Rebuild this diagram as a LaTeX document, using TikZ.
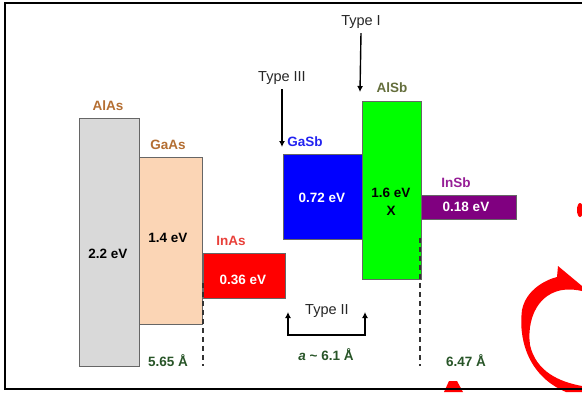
\documentclass[tikz,border=0pt]{standalone}
\usepackage{fontspec}
\setmainfont{Liberation Sans}
\usetikzlibrary{arrows.meta}
\definecolor{alascol}{RGB}{217,217,217}
\definecolor{gaascol}{RGB}{251,213,181}
\definecolor{browntxt}{RGB}{180,110,50}
\definecolor{redtxt}{RGB}{232,64,58}
\definecolor{bluetxt}{RGB}{35,35,240}
\definecolor{olivetxt}{RGB}{100,110,60}
\definecolor{purpletxt}{RGB}{150,30,150}
\definecolor{greentxt}{RGB}{40,85,40}
\definecolor{insbcol}{RGB}{128,0,128}

\begin{document}
\begin{tikzpicture}[x=1pt,y=-1pt,
    band/.style={draw=black!60, line width=0.8pt, inner sep=0pt},
    mat/.style={font=\fontsize{13.5}{16}\selectfont\bfseries},
    gap/.style={font=\fontsize{13.5}{16}\selectfont\bfseries},
    latt/.style={font=\fontsize{13.5}{16}\selectfont\bfseries, text=greentxt},
    typ/.style={font=\fontsize{14.5}{17}\selectfont, text=black!85},
    arr/.style={line width=1.4pt, -{Latex[length=6pt,width=6pt]}},
    cut/.style={line width=1.6pt, black!80, dash pattern=on 5pt off 4pt}]
    \useasboundingbox (0,0) rectangle (582,392);

    % red logo remains
    \fill[red] (558,266) -- (582,286) -- (582,291)
        .. controls (542,282) and (526,315) .. (530,345)
        .. controls (536,372) and (560,382) .. (582,386)
        -- (582,392) -- (566,392)
        .. controls (530,377) and (518,342) .. (522,310)
        .. controls (526,290) and (545,280) .. (557,277) -- cycle;
    \fill[red] (580,210) ellipse (3 and 7);
    \fill[red] (444,392) -- (449,381) -- (457,381) -- (463,392) -- cycle;

    % bands
    \node[band, fill=alascol, minimum width=60pt, minimum height=248pt] (alas) at (109,242) {};
    \node[band, fill=gaascol, minimum width=63pt, minimum height=167pt] (gaas) at (170.5,240.5) {};
    \node[band, fill=red, minimum width=82pt, minimum height=45pt] (inas) at (244,275.5) {};
    \node[band, fill=blue, minimum width=79pt, minimum height=85pt] (gasb) at (322.5,196.5) {};
    \node[band, fill=green, minimum width=59pt, minimum height=178pt] (alsb) at (391.5,190) {};
    \node[band, fill=insbcol, minimum width=95pt, minimum height=24pt] (insb) at (468.5,207) {};

    % material names
    \node[mat, text=browntxt] (alasl) at (108,106) {AlAs};
    \node[mat, text=browntxt] (gaasl) at (168,145) {GaAs};
    \node[mat, text=redtxt] (inasl) at (231,241) {InAs};
    \node[mat, text=bluetxt] (gasbl) at (305,142) {GaSb};
    \node[mat, text=olivetxt] (alsbl) at (392,88) {AlSb};
    \node[mat, text=purpletxt] (insbl) at (456,183) {InSb};

    % gaps
    \node[gap] (alasg) at (108,254) {2.2 eV};
    \node[gap] (gaasg) at (168,238) {1.4 eV};
    \node[gap, text=white] (inasg) at (243,280) {0.36 eV};
    \node[gap, text=white] (gasbg) at (322,198) {0.72 eV};
    \node[gap] (alsbg) at (391,193) {1.6 eV};
    \node[gap] (alsbx) at (391,211) {X};
    \node[gap, text=white] (insbg) at (466,207) {0.18 eV};

    % lattice constants
    \coordinate (cuta) at (203,283);
    \coordinate (cutb) at (203,366);
    \coordinate (cutc) at (420,238);
    \coordinate (cutd) at (420,366);
    \draw[cut] (cuta) -- (cutb);
    \draw[cut] (cutc) -- (cutd);
    \node[latt] (lc1) at (168,361) {5.65 Å};
    \node[latt] (lc2) at (326,355) {\textit{a} \textasciitilde\ 6.1 Å};
    \node[latt] (lc3) at (466,361) {6.47 Å};

    % alignment types
    \node[typ] (t1) at (361,22) {Type I};
    \node[typ] (t3) at (282,78) {Type III};
    \node[typ] (t2) at (327,311) {Type II};
    \draw[arr] (t1.south) ++(0,1) coordinate (t1s) (t1s) -- (360,92);
    \draw[arr] (t3.south) ++(0,1) coordinate (t3s) (t3s) -- (282,147);
    \coordinate (bl) at (288,312);
    \coordinate (br) at (365,312);
    \draw[line width=1.4pt, {Latex[length=6pt,width=6pt]}-{Latex[length=6pt,width=6pt]}]
        (bl) -- (288,335) -- (365,335) -- (br);

    % frame
    \draw[line width=2pt] (582,3) -- (5,3) -- (5,389) -- (582,389);
\end{tikzpicture}
\end{document}
